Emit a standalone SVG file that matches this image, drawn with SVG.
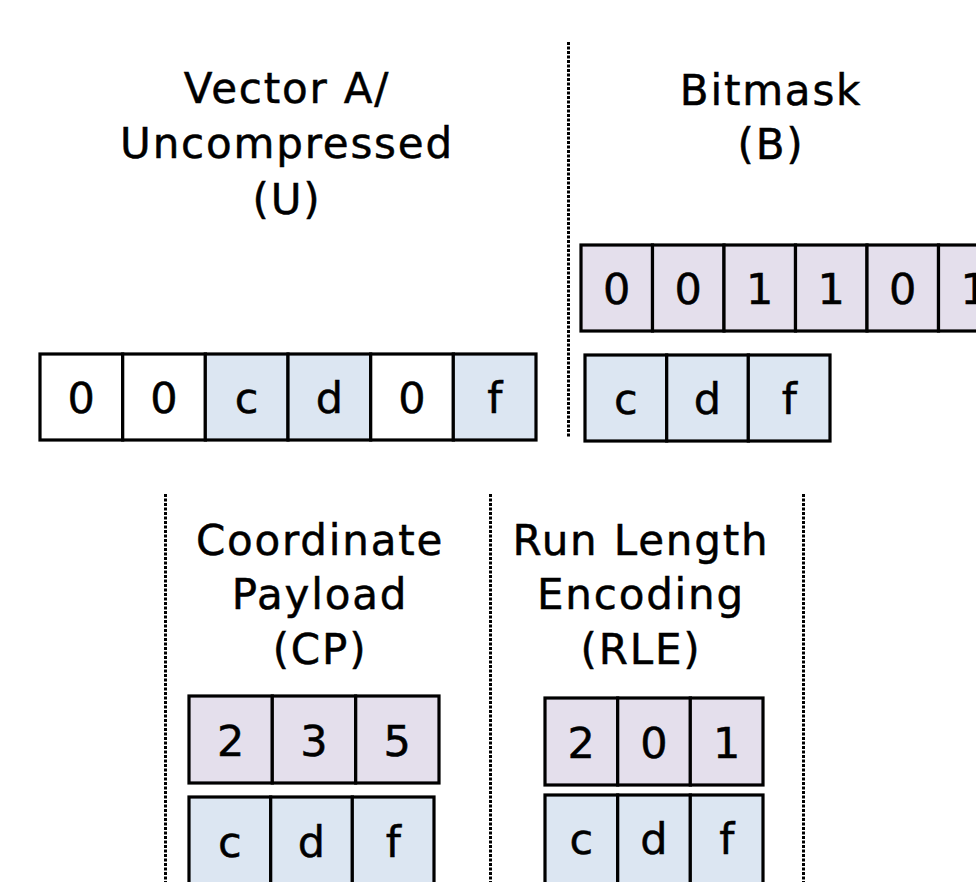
<svg xmlns="http://www.w3.org/2000/svg" width="976" height="882" viewBox="0 0 976 882">
<style>
.title{font-family:"DejaVu Sans","Verdana",sans-serif;font-size:42px;letter-spacing:1.8px;fill:#000;stroke:#000;stroke-width:0.5;text-anchor:middle}
.val{font-family:"DejaVu Sans","Verdana",sans-serif;font-size:43px;fill:#000;stroke:#000;stroke-width:0.5;text-anchor:middle}
.c{stroke:#000;stroke-width:3.2}
.w{fill:#fff}
.p{fill:#e4dfec}
.b{fill:#dce6f2}
.sep{stroke:#000;stroke-width:3;stroke-dasharray:3 1.5;fill:none}
</style>
<rect width="976" height="882" fill="#fff"/>
<g id="separators">
<line class="sep" x1="568.5" y1="42" x2="568.5" y2="438"/>
<line class="sep" x1="165.5" y1="494" x2="165.5" y2="882"/>
<line class="sep" x1="490.5" y1="494" x2="490.5" y2="882"/>
<line class="sep" x1="803.5" y1="494" x2="803.5" y2="882"/>
</g>
<g id="uncompressed">
<text class="title" x="287" y="103">Vector A/</text>
<text class="title" x="287" y="158">Uncompressed</text>
<text class="title" x="287" y="214">(U)</text>
<rect class="c w" x="40" y="354" width="82.7" height="86"/>
<rect class="c w" x="122.7" y="354" width="82.7" height="86"/>
<rect class="c b" x="205.3" y="354" width="82.7" height="86"/>
<rect class="c b" x="288" y="354" width="82.7" height="86"/>
<rect class="c w" x="370.7" y="354" width="82.7" height="86"/>
<rect class="c b" x="453.3" y="354" width="82.7" height="86"/>
<text class="val" x="81.3" y="413">0</text>
<text class="val" x="164" y="413">0</text>
<text class="val" x="246.7" y="413">c</text>
<text class="val" x="329.3" y="413">d</text>
<text class="val" x="412" y="413">0</text>
<text class="val" x="494.7" y="413">f</text>
</g>
<g id="bitmask">
<text class="title" x="771" y="105">Bitmask</text>
<text class="title" x="771" y="159">(B)</text>
<rect class="c p" x="581" y="245" width="71.5" height="86"/>
<rect class="c p" x="652.5" y="245" width="71.5" height="86"/>
<rect class="c p" x="724" y="245" width="71.5" height="86"/>
<rect class="c p" x="795.5" y="245" width="71.5" height="86"/>
<rect class="c p" x="867" y="245" width="71.5" height="86"/>
<rect class="c p" x="938.5" y="245" width="71.5" height="86"/>
<text class="val" x="616.8" y="304">0</text>
<text class="val" x="688.3" y="304">0</text>
<text class="val" x="759.8" y="304">1</text>
<text class="val" x="831.3" y="304">1</text>
<text class="val" x="902.8" y="304">0</text>
<text class="val" x="974.3" y="304">1</text>
<rect class="c b" x="585" y="355" width="81.7" height="86"/>
<rect class="c b" x="666.7" y="355" width="81.7" height="86"/>
<rect class="c b" x="748.3" y="355" width="81.7" height="86"/>
<text class="val" x="625.8" y="414">c</text>
<text class="val" x="707.5" y="414">d</text>
<text class="val" x="789.2" y="414">f</text>
</g>
<g id="coordinate-payload">
<text class="title" x="320" y="555">Coordinate</text>
<text class="title" x="320" y="609">Payload</text>
<text class="title" x="320" y="664">(CP)</text>
<rect class="c p" x="189" y="696" width="83.3" height="87"/>
<rect class="c p" x="272.3" y="696" width="83.3" height="87"/>
<rect class="c p" x="355.7" y="696" width="83.3" height="87"/>
<text class="val" x="230.7" y="756">2</text>
<text class="val" x="314" y="756">3</text>
<text class="val" x="397.3" y="756">5</text>
<rect class="c b" x="189" y="797" width="81.7" height="110"/>
<rect class="c b" x="270.7" y="797" width="81.7" height="110"/>
<rect class="c b" x="352.3" y="797" width="81.7" height="110"/>
<text class="val" x="229.8" y="857">c</text>
<text class="val" x="311.5" y="857">d</text>
<text class="val" x="393.2" y="857">f</text>
</g>
<g id="run-length-encoding">
<text class="title" x="641" y="555">Run Length</text>
<text class="title" x="641" y="609">Encoding</text>
<text class="title" x="641" y="664">(RLE)</text>
<rect class="c p" x="545" y="698" width="72.7" height="87"/>
<rect class="c p" x="617.7" y="698" width="72.7" height="87"/>
<rect class="c p" x="690.3" y="698" width="72.7" height="87"/>
<text class="val" x="581.3" y="758">2</text>
<text class="val" x="654" y="758">0</text>
<text class="val" x="726.7" y="758">1</text>
<rect class="c b" x="545" y="795" width="72.7" height="110"/>
<rect class="c b" x="617.7" y="795" width="72.7" height="110"/>
<rect class="c b" x="690.3" y="795" width="72.7" height="110"/>
<text class="val" x="581.3" y="854">c</text>
<text class="val" x="654" y="854">d</text>
<text class="val" x="726.7" y="854">f</text>
</g>
</svg>
